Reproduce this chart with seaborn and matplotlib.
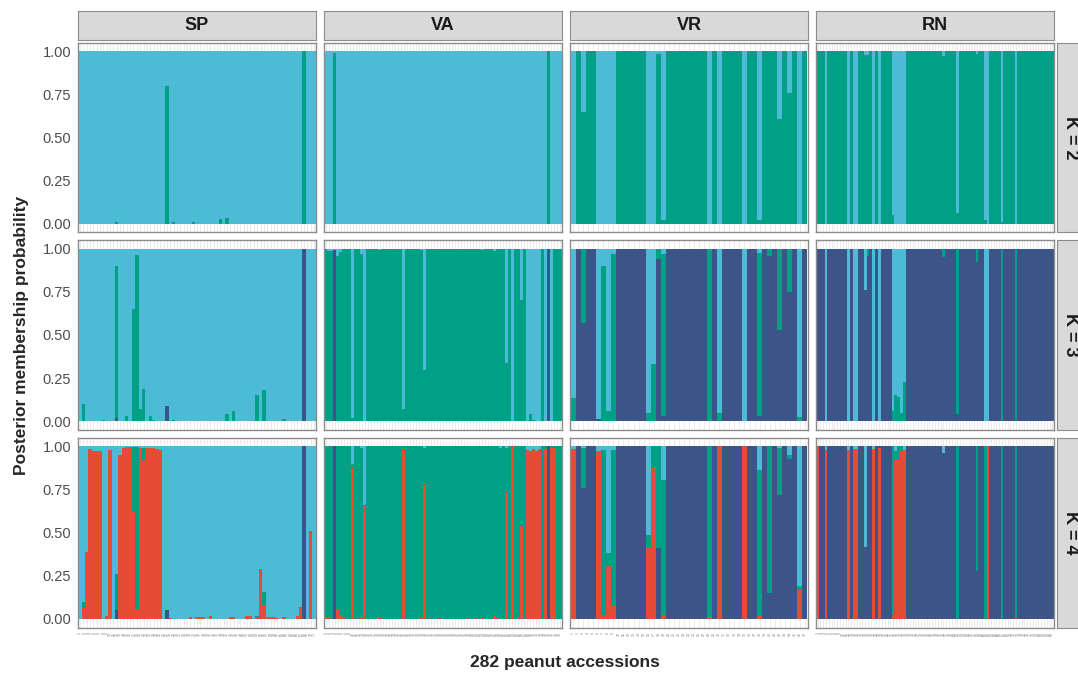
import pandas as pd
import matplotlib
matplotlib.use("Agg")
import matplotlib.pyplot as plt
import seaborn as sns

# Facets
GROUPS = ["SP", "VA", "VR", "RN"]
N_ACC = [71, 79, 47, 85]          # 282 accessions in total
K_VALUES = [2, 3, 4]

# Clusters: B = light blue, G = green, N = navy, R = red
CLUSTERS = ["B", "G", "N", "R"]
CLUSTER_COLORS = ["#4DBBD5", "#00A087", "#3C5488", "#E64B35"]

# cluster that takes the remainder of each bar (rows K = 2, 3, 4)
BASE = {
    "SP": ["B", "B", "B"],
    "VA": ["B", "G", "G"],
    "VR": ["G", "N", "N"],
    "RN": ["G", "N", "N"],
}

# membership: accession -> {cluster: q}
sp_k2 = {12: {"G": .01}, 27: {"G": .80}, 29: {"G": .01}, 35: {"G": .01},
         43: {"G": .03}, 45: {"G": .035}, 68: {"G": 1.0}}
sp_k3 = {2: {"G": .10}, 8: {"G": .01}, 11: {"G": .005}, 12: {"G": .88, "N": .02},
         15: {"G": .03}, 17: {"G": .65}, 18: {"G": .965}, 19: {"G": .07},
         20: {"G": .19}, 22: {"G": .03}, 23: {"G": .01}, 27: {"N": .09},
         29: {"G": .01}, 45: {"G": .04}, 47: {"G": .06}, 54: {"G": .15},
         56: {"G": .18}, 62: {"G": .015}, 68: {"N": 1.0}}
sp_k4 = {2: {"R": .065, "G": .03}, 3: {"R": .39}, 4: {"R": .985}, 5: {"R": .97},
         6: {"R": .97}, 7: {"R": .97}, 9: {"R": .015}, 10: {"R": .975},
         12: {"N": .05, "G": .21}, 13: {"R": .95}, 14: {"R": .99}, 15: {"R": .995},
         16: {"R": .995}, 17: {"R": .62, "G": .375}, 18: {"R": .06, "G": .935},
         19: {"R": .99}, 20: {"R": .92, "G": .07}, 21: {"R": .99}, 22: {"R": .99},
         23: {"R": .99}, 24: {"R": .985}, 25: {"R": .98}, 27: {"N": .05},
         28: {"R": .005}, 34: {"R": .008}, 36: {"R": .01}, 37: {"R": .01},
         38: {"R": .01}, 40: {"R": .015}, 46: {"R": .008}, 47: {"R": .008},
         51: {"R": .015}, 52: {"R": .015}, 54: {"R": .005, "G": .01}, 55: {"R": .29},
         56: {"R": .08, "G": .075}, 57: {"R": .01}, 58: {"R": .01}, 59: {"R": .01},
         60: {"R": .005}, 62: {"R": .008}, 66: {"R": .015}, 67: {"R": .07},
         68: {"N": 1.0}, 70: {"R": .51}}

va_k2 = {4: {"G": .99}, 75: {"G": 1.0}}
va_k3 = {2: {"B": .015}, 3: {"B": .015}, 4: {"N": .99, "B": .01}, 5: {"B": .04},
         6: {"B": .02}, 10: {"B": .98}, 13: {"B": .03}, 14: {"B": .995},
         19: {"B": .01}, 27: {"B": .93}, 33: {"B": .01}, 34: {"B": .70},
         53: {"B": .01}, 57: {"B": .015}, 61: {"B": .66}, 63: {"B": 1.0},
         66: {"B": .30}, 68: {"B": 1.0}, 69: {"B": .96}, 70: {"B": .99},
         71: {"B": 1.0}, 72: {"B": 1.0}, 74: {"B": 1.0}, 75: {"N": 1.0},
         76: {"B": 1.0}}
va_k4 = {1: {"R": .01}, 2: {"R": .01}, 4: {"N": 1.0}, 5: {"R": .055},
         6: {"R": .025}, 7: {"R": .01}, 10: {"R": .88, "B": .106},
         13: {"R": .01, "B": .01}, 14: {"R": .655, "B": .34}, 19: {"R": .01},
         27: {"R": .985}, 33: {"R": .01}, 34: {"R": .78, "B": .01}, 39: {"R": .005},
         48: {"R": .006}, 51: {"R": .006}, 53: {"R": .006}, 57: {"R": .015},
         58: {"R": .006}, 59: {"B": .01}, 61: {"R": .74, "B": .01}, 63: {"R": 1.0},
         65: {"R": .006}, 66: {"R": .54}, 68: {"R": .98, "B": .02},
         69: {"R": .97, "B": .03}, 70: {"R": .985, "B": .015},
         71: {"R": .97, "B": .03}, 72: {"R": .985, "B": .015}, 74: {"R": .985},
         75: {"N": 1.0}, 76: {"R": .99}, 77: {"R": .99}}

vr_k2 = {1: {"B": 1.0}, 3: {"B": .35}, 6: {"B": 1.0}, 7: {"B": 1.0}, 8: {"B": 1.0},
         9: {"B": 1.0}, 16: {"B": 1.0}, 17: {"B": 1.0}, 18: {"B": .015},
         19: {"B": .975}, 28: {"B": 1.0}, 30: {"B": 1.0}, 35: {"B": 1.0},
         38: {"B": .98}, 42: {"B": .39}, 44: {"B": .24}, 46: {"B": 1.0}}
vr_k3 = {1: {"G": .135, "B": .865}, 3: {"G": .43}, 6: {"B": .985},
         7: {"G": .90, "B": .10}, 8: {"G": .06, "B": .94}, 9: {"G": .97, "B": .03},
         16: {"G": .05, "B": .95}, 17: {"G": .33, "B": .67}, 18: {"G": .06},
         19: {"G": .94, "B": .03}, 28: {"G": 1.0}, 30: {"G": .05, "B": .95},
         35: {"B": 1.0}, 38: {"G": .945, "B": .025}, 40: {"G": .04},
         42: {"G": .47}, 44: {"G": .25}, 46: {"G": .025, "B": .975}}
vr_k4 = {1: {"R": .985, "B": .015}, 3: {"G": .23, "B": .01},
         6: {"R": .97, "B": .03}, 7: {"R": .025, "G": .955, "B": .02},
         8: {"R": .305, "G": .075, "B": .62}, 9: {"R": .08, "G": .90, "B": .02},
         16: {"R": .41, "G": .075, "B": .515}, 17: {"R": .88, "G": .12},
         18: {"G": .59}, 19: {"R": .025, "G": .78, "B": .195},
         28: {"R": .01, "G": .99}, 30: {"R": 1.0}, 35: {"R": 1.0},
         38: {"R": .015, "G": .845, "B": .14}, 40: {"G": .85},
         42: {"G": .27, "B": .01}, 44: {"G": .025, "B": .05},
         46: {"R": .17, "G": .02, "B": .81}}

rn_k2 = {4: {"B": 1.0}, 12: {"B": 1.0}, 14: {"B": 1.0}, 15: {"B": 1.0},
         18: {"B": .02}, 19: {"B": .025}, 21: {"B": 1.0}, 23: {"B": 1.0},
         28: {"B": .95}, 29: {"B": 1.0}, 30: {"B": 1.0}, 31: {"B": 1.0},
         32: {"B": 1.0}, 46: {"B": .03}, 51: {"B": .94}, 58: {"B": .015},
         61: {"B": .98}, 62: {"B": 1.0}, 67: {"B": .99}, 72: {"B": 1.0}}
rn_k3 = {4: {"B": 1.0}, 12: {"B": 1.0}, 14: {"B": 1.0}, 15: {"B": 1.0},
         18: {"B": .24}, 19: {"G": .04}, 21: {"B": 1.0}, 23: {"B": 1.0},
         28: {"G": .06, "B": .94}, 29: {"G": .15, "B": .85},
         30: {"G": .14, "B": .86}, 31: {"G": .05, "B": .95},
         32: {"G": .23, "B": .77}, 46: {"G": .05}, 51: {"G": .96},
         58: {"G": .08}, 61: {"B": 1.0}, 62: {"B": 1.0}, 67: {"G": 1.0},
         72: {"G": 1.0}}
rn_k4 = {1: {"R": 1.0}, 4: {"R": .975, "B": .025}, 12: {"R": .98, "B": .02},
         14: {"R": .985, "B": .015}, 15: {"R": .985, "B": .015}, 18: {"B": .585},
         21: {"R": .985, "B": .015}, 23: {"R": .99}, 28: {"R": .025, "G": .975},
         29: {"R": .92, "G": .05, "B": .03}, 30: {"R": .92, "G": .08},
         31: {"R": .97, "G": .03}, 32: {"R": .98, "B": .02}, 46: {"B": .04},
         51: {"G": 1.0}, 58: {"G": .72}, 61: {"G": 1.0}, 62: {"R": 1.0},
         67: {"G": 1.0}, 72: {"R": .01, "G": .99}}

MEMBERSHIP = {
    "SP": [sp_k2, sp_k3, sp_k4],
    "VA": [va_k2, va_k3, va_k4],
    "VR": [vr_k2, vr_k3, vr_k4],
    "RN": [rn_k2, rn_k3, rn_k4],
}

Y_TICKS = [0, 0.25, 0.5, 0.75, 1.0]
Y_TICKLABELS = ["0.00", "0.25", "0.50", "0.75", "1.00"]


def panel_frame(n, base, extra):
    rows = []
    for i in range(1, n + 1):
        q = extra.get(i, {})
        rest = max(0.0, 1.0 - sum(q.values()))
        for c in CLUSTERS:
            rows.append((i, c, q.get(c, 0.0) + (rest if c == base else 0.0)))
    return pd.DataFrame(rows, columns=["acc", "cluster", "q"])


sns.set_style("white")
plt.rcParams["font.family"] = ["Liberation Sans", "DejaVu Sans"]

W, H = 1078, 677
fig = plt.figure(figsize=(W / 100, H / 100), dpi=100)


def px_axes(x0, y0, w, h):
    return fig.add_axes([x0 / W, 1 - (y0 + h) / H, w / W, h / H])


col_left = [78, 324, 570, 816]
pw = 238
row_top = [42.5, 240, 437.5]
ph = 190
border = "#8C8C8C"

for r, k in enumerate(K_VALUES):
    for c, g in enumerate(GROUPS):
        n = N_ACC[c]
        ax = px_axes(col_left[c], row_top[r], pw, ph)
        df = panel_frame(n, BASE[g][r], MEMBERSHIP[g][r])
        sns.histplot(data=df, x="acc", weights="q", hue="cluster",
                     hue_order=CLUSTERS, palette=CLUSTER_COLORS,
                     multiple="stack", discrete=True, shrink=1,
                     alpha=1, linewidth=0, antialiased=False,
                     legend=False, ax=ax)
        ax.set_axisbelow(True)
        ax.set_xlim(0.4, n + 0.6)
        ax.set_ylim(-0.05, 1.05)
        ax.set_xlabel("")
        ax.set_ylabel("")
        ax.set_xticks(range(1, n + 1))
        ax.grid(axis="x", color="#E3E3E3", linewidth=0.5)
        ax.grid(axis="y", visible=False)
        for s in ax.spines.values():
            s.set_color(border)
            s.set_linewidth(1.0)
        if r == len(K_VALUES) - 1:
            ax.set_xticklabels([str(i) for i in range(1, n + 1)],
                               rotation=90, fontsize=2.5, color="#7F7F7F")
            ax.tick_params(axis="x", length=2.5, width=0.5, color="#4D4D4D", pad=1)
        else:
            ax.set_xticklabels([])
            ax.tick_params(axis="x", length=0)
        if c == 0:
            ax.set_yticks(Y_TICKS)
            ax.set_yticklabels(Y_TICKLABELS, fontsize=10.5, color="#4D4D4D")
            ax.tick_params(axis="y", length=3, width=0.8, color="#4D4D4D", pad=2)
        else:
            ax.set_yticks([])

# column strips
for c, g in enumerate(GROUPS):
    sax = px_axes(col_left[c], 11, pw, 29)
    sax.set_facecolor("#D9D9D9")
    sax.set_xticks([])
    sax.set_yticks([])
    for s in sax.spines.values():
        s.set_color(border)
    sax.text(0.5, 0.5, g, ha="center", va="center", fontsize=13,
             fontweight="bold", color="#1A1A1A", transform=sax.transAxes)

# row strips
for r, k in enumerate(K_VALUES):
    sax = px_axes(1057, row_top[r], 26, ph)
    sax.set_facecolor("#D9D9D9")
    sax.set_xticks([])
    sax.set_yticks([])
    for s in sax.spines.values():
        s.set_color(border)
    sax.text(0.5, 0.5, f"K = {k}", ha="center", va="center", fontsize=13,
             fontweight="bold", color="#1A1A1A", rotation=-90,
             transform=sax.transAxes)

fig.text(22 / W, 1 - 335 / H, "Posterior membership probability", rotation=90,
         ha="center", va="center", fontsize=12.5, fontweight="bold")
fig.text(565 / W, 1 - 663 / H, "282 peanut accessions", ha="center",
         va="center", fontsize=12.5, fontweight="bold")

fig.savefig("out.png", dpi=100)
